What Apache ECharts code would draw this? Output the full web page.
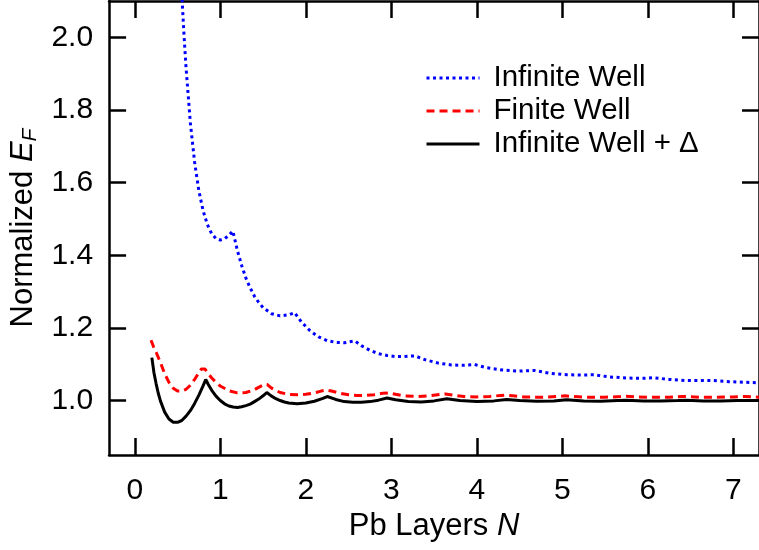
<!DOCTYPE html>
<html>
<head>
<meta charset="utf-8">
<script src="https://cdn.jsdelivr.net/npm/echarts@6/dist/echarts.min.js"></script>
<style>
  html, body { margin: 0; padding: 0; background: #fff; }
  #chart { width: 759px; height: 550px; }
</style>
</head>
<body>
<div id="chart"></div>
<script>
// Normalized Fermi energy vs. number of Pb layers N, as [N, E_F / E_F(bulk)]
const infiniteWell = [
  [0.50, 2.409], [0.54, 2.172], [0.56, 2.075], [0.58, 1.990], [0.60, 1.916],
  [0.65, 1.765], [0.70, 1.656], [0.75, 1.577], [0.80, 1.522], [0.85, 1.484],
  [0.90, 1.459], [0.95, 1.446], [1.00, 1.442], [1.05, 1.445], [1.10, 1.455],
  [1.147, 1.467], [1.20, 1.413], [1.25, 1.372], [1.30, 1.337], [1.35, 1.310],
  [1.40, 1.287], [1.45, 1.270], [1.50, 1.256], [1.60, 1.239], [1.70, 1.233],
  [1.80, 1.236], [1.869, 1.242], [1.95, 1.216], [2.05, 1.192], [2.15, 1.175],
  [2.25, 1.165], [2.35, 1.160], [2.45, 1.159], [2.575, 1.164], [2.65, 1.151],
  [2.75, 1.138], [2.85, 1.129], [2.95, 1.124], [3.05, 1.121], [3.15, 1.121],
  [3.276, 1.123], [3.40, 1.112], [3.55, 1.103], [3.70, 1.098], [3.85, 1.097],
  [3.975, 1.099], [4.10, 1.091], [4.30, 1.084], [4.50, 1.081], [4.672, 1.083],
  [4.85, 1.075], [5.05, 1.071], [5.25, 1.070], [5.367, 1.071], [5.55, 1.065],
  [5.75, 1.062], [5.95, 1.061], [6.063, 1.063], [6.25, 1.058], [6.45, 1.055],
  [6.65, 1.055], [6.76, 1.055], [6.95, 1.052], [7.15, 1.050], [7.30, 1.049]
];

const finiteWell = [
  [0.19, 1.166], [0.22, 1.148], [0.25, 1.133], [0.30, 1.105], [0.35, 1.074],
  [0.40, 1.050], [0.45, 1.034], [0.50, 1.026], [0.55, 1.026], [0.60, 1.031],
  [0.65, 1.042], [0.70, 1.058], [0.75, 1.077], [0.78, 1.087], [0.80, 1.090],
  [0.82, 1.087], [0.85, 1.077], [0.90, 1.062], [0.95, 1.050], [1.00, 1.040],
  [1.10, 1.027], [1.20, 1.021], [1.30, 1.022], [1.40, 1.030], [1.47, 1.039],
  [1.52, 1.045], [1.55, 1.044], [1.60, 1.034], [1.70, 1.022], [1.80, 1.017],
  [1.90, 1.016], [2.00, 1.017], [2.10, 1.021], [2.18, 1.026], [2.24, 1.029],
  [2.30, 1.026], [2.40, 1.020], [2.50, 1.016], [2.60, 1.014], [2.70, 1.014],
  [2.80, 1.016], [2.90, 1.020], [2.96, 1.021], [3.05, 1.017], [3.15, 1.013],
  [3.30, 1.011], [3.45, 1.013], [3.58, 1.017], [3.63, 1.018], [3.72, 1.015],
  [3.85, 1.011], [4.00, 1.010], [4.15, 1.011], [4.28, 1.014], [4.33, 1.015],
  [4.42, 1.013], [4.55, 1.010], [4.75, 1.009], [4.95, 1.011], [5.03, 1.013],
  [5.12, 1.011], [5.30, 1.009], [5.50, 1.009], [5.68, 1.011], [5.74, 1.012],
  [5.85, 1.010], [6.05, 1.009], [6.25, 1.009], [6.40, 1.011], [6.47, 1.011],
  [6.60, 1.009], [6.80, 1.009], [7.00, 1.010], [7.13, 1.011], [7.30, 1.009]
];

const infiniteWellDelta = [
  [0.20, 1.118], [0.225, 1.076], [0.25, 1.046], [0.275, 1.020], [0.30, 0.999],
  [0.35, 0.968], [0.40, 0.949], [0.45, 0.940], [0.50, 0.940], [0.55, 0.945],
  [0.60, 0.957], [0.65, 0.972], [0.70, 0.992], [0.75, 1.015], [0.80, 1.041],
  [0.83, 1.058], [0.86, 1.044], [0.90, 1.028], [0.95, 1.012], [1.00, 1.000],
  [1.05, 0.991], [1.10, 0.985], [1.15, 0.982], [1.20, 0.981], [1.25, 0.983],
  [1.30, 0.986], [1.35, 0.990], [1.40, 0.997], [1.45, 1.004], [1.50, 1.013],
  [1.544, 1.022], [1.60, 1.012], [1.65, 1.005], [1.70, 1.000], [1.75, 0.996],
  [1.80, 0.993], [1.90, 0.991], [2.00, 0.993], [2.10, 0.998], [2.20, 1.006],
  [2.25, 1.011], [2.35, 1.003], [2.45, 0.997], [2.55, 0.995], [2.65, 0.995],
  [2.75, 0.997], [2.85, 1.001], [2.95, 1.007], [3.05, 1.002], [3.20, 0.997],
  [3.35, 0.996], [3.50, 0.999], [3.65, 1.005], [3.80, 1.000], [4.00, 0.997],
  [4.20, 0.999], [4.35, 1.003], [4.50, 1.000], [4.70, 0.998], [4.90, 0.999],
  [5.05, 1.002], [5.25, 0.999], [5.45, 0.998], [5.65, 1.000], [5.75, 1.001],
  [5.95, 0.999], [6.15, 0.999], [6.35, 1.000], [6.45, 1.001], [6.65, 0.999],
  [6.85, 0.999], [7.05, 1.000], [7.15, 1.000], [7.30, 1.000]
];

const xTicks = [0, 1, 2, 3, 4, 5, 6, 7];
const yTicks = [1.0, 1.2, 1.4, 1.6, 1.8, 2.0];

const FONT = "'Liberation Sans', Arial, sans-serif";
const INK = '#000';
const LABEL_SIZE = 30;
const TITLE_SIZE = 31;

const frameLine = { show: true, onZero: false, lineStyle: { color: INK, width: 2.5 } };
const innerTick = (values) => ({
  show: true, inside: true, length: 17, customValues: values,
  lineStyle: { color: INK, width: 2.5 }
});

const chart = echarts.init(document.getElementById('chart'), null, { renderer: 'canvas' });

chart.setOption({
  animation: false,
  backgroundColor: '#fff',
  textStyle: { fontFamily: FONT },
  grid: { left: 109, top: 1, width: 656, height: 454, containLabel: false },
  legend: {
    orient: 'vertical',
    left: 425,
    top: 63,
    padding: 0,
    itemWidth: 53,
    itemHeight: 4,
    itemGap: 3,
    selectedMode: false,
    itemStyle: { opacity: 0 },
    lineStyle: { width: 3 },
    textStyle: { fontFamily: FONT, fontSize: 29.5, color: INK, padding: [0, 0, 0, 9] },
    data: ['Infinite Well', 'Finite Well', 'Infinite Well + Δ']
  },
  xAxis: [
    {
      type: 'value', position: 'bottom', min: -0.3, max: 7.3,
      axisLine: frameLine,
      axisTick: innerTick(xTicks),
      splitLine: { show: false },
      axisLabel: {
        customValues: xTicks, margin: 21, fontSize: LABEL_SIZE, color: INK, fontFamily: FONT,
        formatter: (v) => String(Math.round(v))
      },
      name: '{t|Pb Layers }{i|N}',
      nameLocation: 'middle',
      nameGap: 53,
      nameTextStyle: {
        rich: {
          t: { fontSize: TITLE_SIZE, fontFamily: FONT, color: INK },
          i: { fontSize: TITLE_SIZE, fontFamily: FONT, color: INK, fontStyle: 'italic' }
        }
      }
    },
    {
      type: 'value', position: 'top', min: -0.3, max: 7.3,
      axisLine: frameLine,
      axisTick: innerTick(xTicks),
      axisLabel: { show: false },
      splitLine: { show: false }
    }
  ],
  yAxis: [
    {
      type: 'value', position: 'left', min: 0.85, max: 2.1,
      axisLine: frameLine,
      axisTick: innerTick(yTicks),
      splitLine: { show: false },
      axisLabel: {
        customValues: yTicks, margin: 16, fontSize: LABEL_SIZE, color: INK, fontFamily: FONT,
        formatter: (v) => v.toFixed(1)
      },
      name: '{t|Normalized }{i|E}{s|F}',
      nameLocation: 'middle',
      nameRotate: 90,
      nameGap: 62,
      nameTextStyle: {
        rich: {
          t: { fontSize: TITLE_SIZE, fontFamily: FONT, color: INK, lineHeight: 34 },
          i: { fontSize: TITLE_SIZE, fontFamily: FONT, color: INK, fontStyle: 'italic', lineHeight: 34 },
          s: { fontSize: 21, fontFamily: FONT, color: INK, fontStyle: 'italic', lineHeight: 12, verticalAlign: 'bottom' }
        }
      }
    },
    {
      type: 'value', position: 'right', min: 0.85, max: 2.1,
      axisLine: frameLine,
      axisTick: innerTick(yTicks),
      axisLabel: { show: false },
      splitLine: { show: false }
    }
  ],
  series: [
    {
      name: 'Infinite Well', type: 'line', data: infiniteWell,
      xAxisIndex: 0, yAxisIndex: 0, symbol: 'none', clip: true,
      lineStyle: { color: '#0000ff', width: 3, type: [3, 3.5], cap: 'butt' },
      itemStyle: { color: '#0000ff' }
    },
    {
      name: 'Finite Well', type: 'line', data: finiteWell,
      xAxisIndex: 0, yAxisIndex: 0, symbol: 'none', clip: true,
      lineStyle: { color: '#ff0000', width: 3, type: [8, 5], cap: 'butt' },
      itemStyle: { color: '#ff0000' }
    },
    {
      name: 'Infinite Well + Δ', type: 'line', data: infiniteWellDelta,
      xAxisIndex: 0, yAxisIndex: 0, symbol: 'none', clip: true,
      lineStyle: { color: INK, width: 3 },
      itemStyle: { color: INK }
    }
  ]
});
</script>
</body>
</html>
